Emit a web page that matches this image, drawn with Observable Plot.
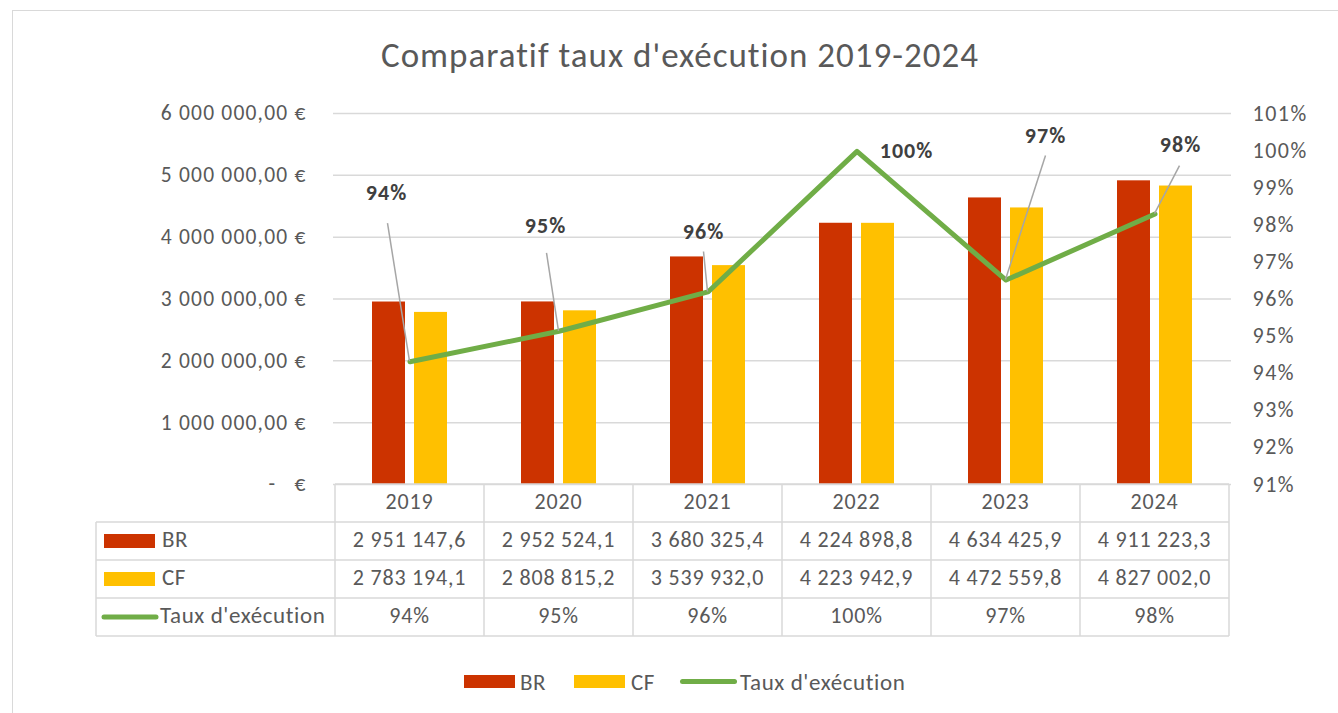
<!DOCTYPE html>
<html><head><meta charset="utf-8">
<script src="https://cdn.jsdelivr.net/npm/d3@7"></script>
<script src="https://cdn.jsdelivr.net/npm/@observablehq/plot@0.6"></script>
<style>
body{margin:0;background:#fff;}
#wrap{position:relative;width:1338px;height:713px;overflow:hidden;font-family:Carlito,Calibri,Lato,sans-serif;color:#595959;background:#fff}
#frame{position:absolute;left:12px;top:10px;width:1400px;height:760px;border:1px solid #d9d9d9;box-sizing:border-box}
#title{position:absolute;left:0;width:1360px;top:34px;line-height:42px;text-align:center;font-size:35px;letter-spacing:1px;color:#595959;white-space:nowrap}
#chart{position:absolute;left:0;top:0}
.leg{position:absolute;top:669px;font-size:23px;letter-spacing:0.6px;color:#595959;white-space:nowrap;line-height:26px}
.sw{position:absolute;}
</style></head><body>
<div id="wrap"><div id="frame"></div><div id="chart"></div><div id="title"></div></div>
<script>
// ---- data ----
const years = ["2019", "2020", "2021", "2022", "2023", "2024"];
const br = [2951147.6, 2952524.1, 3680325.4, 4224898.8, 4634425.9, 4911223.3];
const cf = [2783194.1, 2808815.2, 3539932.0, 4223942.9, 4472559.8, 4827002.0];
const taux = [0.9431, 0.9513, 0.9619, 0.9998, 0.9651, 0.9829];
const leftTicks = [0, 1000000, 2000000, 3000000, 4000000, 5000000, 6000000];
const rightTicks = [0.91, 0.92, 0.93, 0.94, 0.95, 0.96, 0.97, 0.98, 0.99, 1.00, 1.01];
const seriesNames = ["BR", "CF", "Taux d'exécution"];
const title = "Comparatif taux d'exécution 2019-2024";

// ---- styles ----
const colBR = "#cc3300", colCF = "#ffc000", colLine = "#70ad47";
const grid = "#d9d9d9", txt = "#595959", lblCol = "#404040";
const font = "Carlito, Calibri, Lato, sans-serif";
// label offsets (px): [labelDx, labelDy, leaderDx, leaderDy]
const labelOffsets = [[-23,-167,-22,-138],[-13,-103,-12,-78],[-4,-58,-4,-40],[50,2,null,null],[40,-142,40,-124],[26,-67,25,-48]];

document.getElementById("title").textContent = title;

const data = years.map((year, i) => ({year, br: br[i], cf: cf[i], taux: taux[i]}));
const pMin = rightTicks[0], pMax = rightTicks[rightTicks.length - 1], mMax = leftTicks[leftTicks.length - 1];
const toY = p => (p - pMin) / (pMax - pMin) * mMax;
const fromY = m => m / mMax * (pMax - pMin) + pMin;
const groupSpace = s => s.replace(/,/g, "\u00a0");
const fmtEuro = d => d === 0 ? "-\u00a0\u00a0\u00a0€" : groupSpace(d3.format(",.2f")(d)).replace(".", ",") + "\u00a0€";
const fmtVal = d => groupSpace(d3.format(",.1f")(d)).replace(".", ",");
const fmtPct = p => Math.round(p * 100) + "%";

function labelsMark(index, scales) {
  const g = d3.create("svg:g");
  const bw = scales.x.bandwidth ? scales.x.bandwidth() : 0;
  data.forEach((d, i) => {
    const px = scales.x(d.year) + bw / 2, py = scales.y(toY(d.taux));
    const [ldx, ldy, sdx, sdy] = labelOffsets[i];
    if (sdx !== null) {
      g.append("line").attr("x1", px + sdx).attr("y1", py + sdy).attr("x2", px).attr("y2", py)
        .attr("stroke", "#a6a6a6").attr("stroke-width", 1.5);
    }
    g.append("text").attr("x", px + ldx).attr("y", py + ldy).attr("text-anchor", "middle")
      .attr("dominant-baseline", "middle").attr("font-weight", "bold").attr("font-size", 22)
      .attr("letter-spacing", 1).attr("fill", lblCol).attr("font-family", font).text(fmtPct(d.taux));
  });
  return g.node();
}

function tableMark(index, scales) {
  const g = d3.create("svg:g").attr("font-family", font).attr("font-size", 22).attr("fill", txt).attr("letter-spacing", 0.8);
  const bw = scales.x.bandwidth();
  const x0 = scales.x(years[0]), x1 = scales.x(years[years.length - 1]) + bw;
  const top = scales.y(0), rh = 38, left = 96;
  const ln = (a, b, c, e) => g.append("line").attr("x1", a).attr("y1", b).attr("x2", c).attr("y2", e)
    .attr("stroke", grid).attr("stroke-width", 1.5);
  ln(x0, top, x1, top);
  for (let r = 1; r <= 4; r++) ln(left, top + r * rh, x1, top + r * rh);
  ln(left, top + rh, left, top + 4 * rh);
  years.forEach(y => ln(scales.x(y), top, scales.x(y), top + 4 * rh));
  ln(x1, top, x1, top + 4 * rh);
  const rows = [years, br.map(fmtVal), cf.map(fmtVal), taux.map(fmtPct)];
  rows.forEach((row, r) => row.forEach((v, i) => {
    g.append("text").attr("x", scales.x(years[i]) + bw / 2).attr("y", top + r * rh + rh / 2 + 1)
      .attr("text-anchor", "middle").attr("dominant-baseline", "middle").text(v);
  }));
  // row headers
  const cy = r => top + r * rh + rh / 2;
  g.append("rect").attr("x", 104).attr("y", cy(1) - 7).attr("width", 51).attr("height", 14).attr("fill", colBR);
  g.append("rect").attr("x", 104).attr("y", cy(2) - 7).attr("width", 51).attr("height", 14).attr("fill", colCF);
  g.append("line").attr("x1", 104).attr("x2", 156).attr("y1", cy(3)).attr("y2", cy(3))
    .attr("stroke", colLine).attr("stroke-width", 5).attr("stroke-linecap", "round");
  [[162, 1], [162, 2], [160, 3]].forEach(([x, r], k) => {
    g.append("text").attr("x", x).attr("y", cy(r) + 1).attr("text-anchor", "start")
      .attr("dominant-baseline", "middle").attr("font-size", 23).attr("letter-spacing", 0.6).text(seriesNames[k]);
  });
  return g.node();
}

const plot = Plot.plot({
  width: 1338, height: 713,
  marginLeft: 333, marginRight: 107, marginTop: 113, marginBottom: 229,
  style: {fontFamily: font, fontSize: "18px", color: txt, background: "transparent"},
  x: {type: "band", domain: years, padding: 0, axis: null},
  y: {domain: [0, mMax]},
  marks: [
    Plot.gridY(leftTicks, {stroke: grid, strokeOpacity: 1, strokeWidth: 1.5}),
    Plot.barY(data, {x: "year", y: "br", fill: colBR, insetLeft: 58, insetRight: 58, dx: -21}),
    Plot.barY(data, {x: "year", y: "cf", fill: colCF, insetLeft: 58, insetRight: 58, dx: 21}),
    Plot.line(data, {x: "year", y: d => toY(d.taux), stroke: colLine, strokeWidth: 5, strokeLinejoin: "round"}),
    Plot.axisY(leftTicks, {anchor: "left", tickSize: 0, tickPadding: 27, tickFormat: fmtEuro, fontSize: 21.5, fill: txt, label: null}),
    Plot.axisY(rightTicks.map(toY), {anchor: "right", tickSize: 0, tickPadding: 21, tickFormat: d => fmtPct(fromY(d)), fontSize: 22, fill: txt, label: null, textAnchor: "start"}),
    tableMark,
    labelsMark
  ]
});
const tickGroups = d3.select(plot).selectAll('g[aria-label="y-axis tick label"]').nodes();
if (tickGroups[0]) tickGroups[0].setAttribute("letter-spacing", "1.2");
if (tickGroups[1]) tickGroups[1].setAttribute("letter-spacing", "1.5");
document.getElementById("chart").appendChild(plot);

// legend
const wrap = document.getElementById("wrap");
const addSw = (x, w, h, y, color, round) => {
  const s = document.createElement("div"); s.className = "sw";
  Object.assign(s.style, {left: x + "px", top: y + "px", width: w + "px", height: h + "px", background: color, borderRadius: round ? "3px" : "0"});
  wrap.appendChild(s);
};
const addTx = (x, t) => { const s = document.createElement("div"); s.className = "leg"; s.style.left = x + "px"; s.textContent = t; wrap.appendChild(s); };
addSw(464, 51, 13, 675, colBR); addTx(520, seriesNames[0]);
addSw(574, 51, 13, 675, colCF); addTx(631, seriesNames[1]);
addSw(680, 57, 5, 679, colLine, true); addTx(740, seriesNames[2]);
</script></body></html>
